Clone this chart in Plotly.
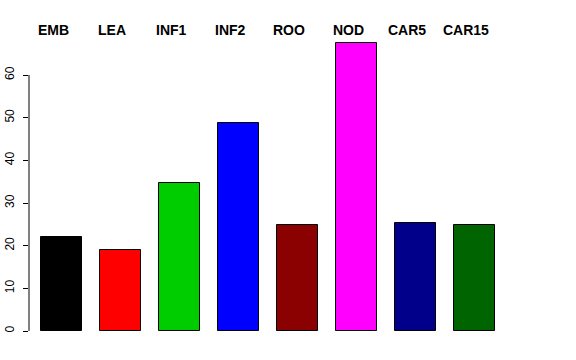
import plotly.graph_objects as go

categories = ["EMB", "LEA", "INF1", "INF2", "ROO", "NOD", "CAR5", "CAR15"]
values = [22.0, 19.0, 34.6, 48.8, 24.9, 67.4, 25.4, 24.9]
colors = ["#000000", "#FF0000", "#00CD00", "#0000FF", "#8B0000", "#FF00FF", "#00008B", "#006400"]
y_ticks = [0, 10, 20, 30, 40, 50, 60]

positions = list(range(len(categories)))

fig = go.Figure()
fig.add_trace(go.Bar(
    x=positions, y=values, width=0.7,
    marker=dict(color=colors, line=dict(color="#000000", width=1)),
    hoverinfo="skip", showlegend=False,
))

for p, name in zip(positions, categories):
    fig.add_annotation(x=p, y=0.968, xref="x", yref="paper", text="<b>%s</b>" % name,
                       showarrow=False, xshift=-8, xanchor="center", yanchor="middle",
                       font=dict(family="Liberation Sans, Arial, sans-serif", size=14, color="#000000"))

# y axis line spanning only the tick range (R style)
fig.add_shape(type="line", xref="paper", yref="y", x0=0, x1=0, y0=y_ticks[0], y1=y_ticks[-1],
              line=dict(color="#000000", width=1))

fig.update_layout(
    width=576, height=360,
    margin=dict(l=29, r=0, t=20, b=29, autoexpand=False),
    paper_bgcolor="white", plot_bgcolor="white",
    bargap=0,
    xaxis=dict(range=[-0.545, 8.72], visible=False, showgrid=False, zeroline=False),
    yaxis=dict(range=[0, 72.9], tickvals=y_ticks, ticktext=[str(v) for v in y_ticks],
               ticks="outside", ticklen=5, tickcolor="#000000", tickwidth=1,
               tickangle=-90, showgrid=False, zeroline=False, showline=False,
               ticklabelstandoff=4,
               tickfont=dict(family="Liberation Sans, Arial, sans-serif", size=12, color="#000000")),
)

fig.write_html("out.html", config={"displayModeBar": False},
               post_script="document.body.style.margin='0';document.body.style.overflow='hidden';")
